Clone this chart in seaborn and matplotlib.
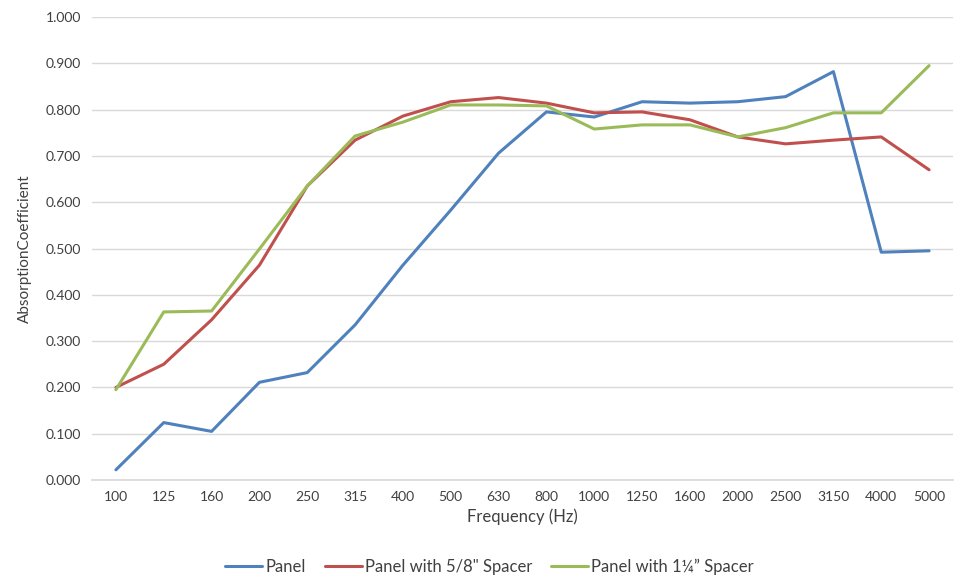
import matplotlib
matplotlib.use('Agg')
import matplotlib.pyplot as plt
import pandas as pd
import seaborn as sns

frequencies = ['100', '125', '160', '200', '250', '315', '400', '500', '630',
               '800', '1000', '1250', '1600', '2000', '2500', '3150', '4000', '5000']
panel = [0.022, 0.124, 0.105, 0.211, 0.232, 0.335, 0.464, 0.583, 0.706,
         0.795, 0.784, 0.817, 0.814, 0.817, 0.828, 0.882, 0.492, 0.495]
panel_58 = [0.200, 0.250, 0.346, 0.464, 0.635, 0.734, 0.786, 0.817, 0.826,
            0.814, 0.793, 0.795, 0.778, 0.741, 0.726, 0.734, 0.741, 0.670]
panel_114 = [0.195, 0.363, 0.365, 0.499, 0.635, 0.743, 0.773, 0.810, 0.810,
             0.808, 0.758, 0.767, 0.767, 0.741, 0.761, 0.793, 0.793, 0.895]
series_names = ['Panel', 'Panel with 5/8" Spacer', 'Panel with 1\u00bc\u201d Spacer']
colors = ['#4F81BD', '#C0504D', '#9BBB59']

sns.set_theme(style='white')
plt.rcParams['font.family'] = ['Lato', 'DejaVu Sans']

frames = []
for name, vals in zip(series_names, [panel, panel_58, panel_114]):
    frames.append(pd.DataFrame({'freq': frequencies, 'value': vals, 'series': name}))
df = pd.concat(frames, ignore_index=True)

fig = plt.figure(figsize=(9.64, 5.78), dpi=100)
ax = fig.add_axes([92 / 964, 1 - 480 / 578, (953 - 92) / 964, (480 - 17) / 578])

sns.lineplot(data=df, x='freq', y='value', hue='series', palette=colors,
             linewidth=2.2, sort=False, ax=ax, legend=True)

ax.set_xlim(-0.5, len(frequencies) - 0.5)
ax.set_ylim(0, 1.0)
ax.set_yticks([i / 10 for i in range(11)])
ax.set_yticklabels([f'{i / 10:.3f}' for i in range(11)])
ax.yaxis.grid(True, color='#D9D9D9', linewidth=1)
ax.set_axisbelow(True)
for side in ['top', 'right', 'left']:
    ax.spines[side].set_visible(False)
ax.spines['bottom'].set_color('#D9D9D9')
ax.tick_params(axis='both', length=0, labelsize=10, colors='#404040', pad=8)
ax.set_xlabel('Frequency (Hz)', fontsize=12, color='#404040', labelpad=4)
ax.set_ylabel('AbsorptionCoefficient', fontsize=11, color='#404040', labelpad=10)

handles, labels = ax.get_legend_handles_labels()
ax.legend_.remove()
fig.legend(handles, labels, loc='lower center', bbox_to_anchor=(0.508, -0.02),
           ncol=3, frameon=False, fontsize=12, handlelength=2.2,
           columnspacing=1.15, handletextpad=0.2, labelcolor='#404040')

fig.savefig('out.png', dpi=100)
